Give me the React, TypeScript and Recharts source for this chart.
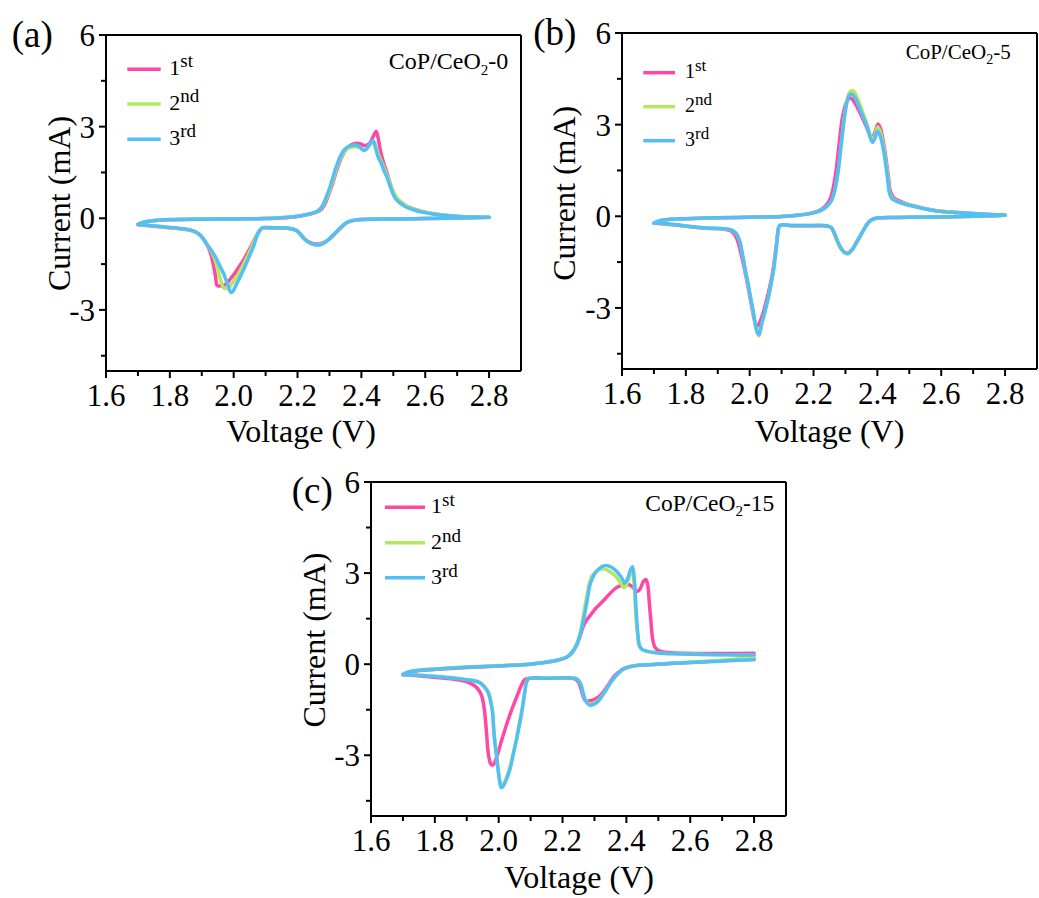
import React from 'react';
import { LineChart, Line, XAxis, YAxis, ReferenceLine, Legend, Customized } from 'recharts';

type Pt = [number, number];

// ---------------- Panel (a) CoP/CeO2-0 ----------------
const a1Cath: Pt[] = [[2.80,0.03],[2.70,0.01],[2.60,-0.01],[2.50,-0.02],[2.45,-0.03],[2.396,-0.04],[2.375,-0.07],[2.354,-0.15],[2.338,-0.29],[2.323,-0.45],[2.302,-0.66],[2.285,-0.78],[2.268,-0.84],[2.25,-0.83],[2.235,-0.77],[2.222,-0.66],[2.21,-0.52],[2.198,-0.41],[2.185,-0.36],[2.167,-0.33],[2.14,-0.32],[2.10,-0.31],[2.09,-0.32],[2.082,-0.40],[2.072,-0.55],[2.06,-0.80],[2.045,-1.10],[2.03,-1.38],[2.015,-1.62],[2.005,-1.78],[1.99,-1.98],[1.978,-2.14],[1.966,-2.20],[1.955,-2.22],[1.948,-2.20],[1.943,-1.90],[1.936,-1.50],[1.926,-1.09],[1.912,-0.78],[1.897,-0.56],[1.882,-0.45],[1.865,-0.39],[1.845,-0.36],[1.82,-0.33],[1.79,-0.30],[1.75,-0.26],[1.72,-0.23],[1.70,-0.21]];
const a1Anod: Pt[] = [[1.70,-0.21],[1.72,-0.13],[1.75,-0.08],[1.80,-0.05],[1.90,-0.03],[2.00,-0.02],[2.10,-0.01],[2.15,0.01],[2.20,0.06],[2.24,0.14],[2.27,0.25],[2.285,0.45],[2.295,0.70],[2.307,1.04],[2.322,1.55],[2.338,2.00],[2.352,2.25],[2.365,2.38],[2.38,2.45],[2.395,2.44],[2.41,2.38],[2.425,2.45],[2.438,2.70],[2.446,2.85],[2.452,2.65],[2.46,2.20],[2.47,1.80],[2.48,1.50],[2.49,1.15],[2.50,0.85],[2.51,0.66],[2.525,0.52],[2.545,0.38],[2.57,0.28],[2.60,0.20],[2.63,0.14],[2.67,0.09],[2.72,0.05],[2.80,0.03]];
const a2Cath: Pt[] = [[2.80,0.03],[2.70,0.01],[2.60,-0.01],[2.50,-0.02],[2.45,-0.03],[2.396,-0.04],[2.375,-0.07],[2.354,-0.14],[2.338,-0.28],[2.323,-0.44],[2.302,-0.65],[2.287,-0.78],[2.27,-0.86],[2.253,-0.86],[2.238,-0.80],[2.225,-0.70],[2.213,-0.55],[2.2,-0.42],[2.185,-0.35],[2.167,-0.32],[2.14,-0.31],[2.10,-0.30],[2.09,-0.31],[2.081,-0.40],[2.073,-0.55],[2.06,-0.85],[2.045,-1.20],[2.03,-1.52],[2.015,-1.82],[2.00,-2.06],[1.99,-2.20],[1.98,-2.28],[1.972,-2.30],[1.965,-2.22],[1.958,-1.98],[1.95,-1.65],[1.94,-1.32],[1.928,-1.05],[1.915,-0.82],[1.90,-0.62],[1.888,-0.50],[1.872,-0.42],[1.85,-0.36],[1.82,-0.33],[1.79,-0.29],[1.75,-0.25],[1.72,-0.22],[1.70,-0.20]];
const a2Anod: Pt[] = [[1.70,-0.20],[1.72,-0.12],[1.75,-0.07],[1.80,-0.04],[1.90,-0.03],[2.00,-0.02],[2.10,-0.01],[2.15,0.02],[2.20,0.07],[2.24,0.15],[2.267,0.25],[2.282,0.45],[2.293,0.70],[2.305,1.04],[2.32,1.55],[2.336,2.00],[2.35,2.22],[2.363,2.31],[2.378,2.34],[2.393,2.32],[2.405,2.25],[2.413,2.24],[2.423,2.35],[2.433,2.48],[2.44,2.50],[2.447,2.30],[2.456,2.02],[2.466,1.78],[2.475,1.55],[2.484,1.33],[2.495,1.02],[2.505,0.78],[2.515,0.62],[2.528,0.50],[2.548,0.37],[2.57,0.28],[2.60,0.20],[2.63,0.14],[2.67,0.09],[2.72,0.05],[2.80,0.03]];
const a3Cath: Pt[] = [[2.80,0.03],[2.70,0.01],[2.60,-0.01],[2.50,-0.02],[2.45,-0.03],[2.396,-0.04],[2.375,-0.07],[2.354,-0.14],[2.338,-0.27],[2.323,-0.43],[2.302,-0.65],[2.287,-0.79],[2.271,-0.87],[2.255,-0.87],[2.239,-0.81],[2.228,-0.74],[2.218,-0.65],[2.208,-0.52],[2.198,-0.41],[2.185,-0.35],[2.167,-0.32],[2.14,-0.31],[2.10,-0.30],[2.09,-0.31],[2.082,-0.38],[2.074,-0.55],[2.062,-0.92],[2.05,-1.22],[2.04,-1.47],[2.025,-1.82],[2.01,-2.13],[2.001,-2.33],[1.994,-2.43],[1.988,-2.38],[1.984,-2.24],[1.976,-2.02],[1.968,-1.80],[1.955,-1.52],[1.942,-1.25],[1.928,-1.02],[1.916,-0.86],[1.905,-0.68],[1.895,-0.55],[1.88,-0.45],[1.865,-0.39],[1.845,-0.35],[1.82,-0.32],[1.79,-0.29],[1.75,-0.25],[1.72,-0.22],[1.70,-0.20]];
const a3Anod: Pt[] = [[1.70,-0.20],[1.72,-0.12],[1.75,-0.07],[1.80,-0.04],[1.90,-0.03],[2.00,-0.02],[2.10,-0.01],[2.15,0.02],[2.20,0.07],[2.24,0.15],[2.265,0.25],[2.28,0.45],[2.29,0.70],[2.302,1.04],[2.318,1.59],[2.334,2.03],[2.347,2.25],[2.36,2.35],[2.375,2.40],[2.39,2.38],[2.40,2.28],[2.408,2.22],[2.418,2.30],[2.428,2.45],[2.436,2.55],[2.443,2.35],[2.452,2.02],[2.462,1.80],[2.47,1.58],[2.479,1.37],[2.49,1.05],[2.50,0.77],[2.51,0.60],[2.521,0.50],[2.54,0.37],[2.563,0.28],[2.59,0.20],[2.625,0.14],[2.67,0.08],[2.72,0.05],[2.80,0.03]];

// ---------------- Panel (b) CoP/CeO2-5 ----------------
const b1Cath: Pt[] = [[2.80,0.03],[2.70,0.00],[2.60,-0.02],[2.50,-0.03],[2.45,-0.04],[2.408,-0.05],[2.39,-0.08],[2.377,-0.15],[2.365,-0.30],[2.351,-0.56],[2.34,-0.77],[2.33,-0.95],[2.32,-1.11],[2.309,-1.21],[2.298,-1.19],[2.287,-1.07],[2.279,-0.92],[2.271,-0.72],[2.263,-0.52],[2.255,-0.37],[2.243,-0.32],[2.231,-0.31],[2.18,-0.31],[2.13,-0.31],[2.095,-0.30],[2.09,-0.42],[2.084,-0.90],[2.074,-1.70],[2.064,-2.25],[2.054,-2.70],[2.044,-3.10],[2.035,-3.38],[2.028,-3.55],[2.022,-3.60],[2.016,-3.45],[2.008,-3.05],[2.0,-2.60],[1.99,-2.05],[1.98,-1.55],[1.97,-1.10],[1.962,-0.80],[1.953,-0.60],[1.942,-0.48],[1.92,-0.42],[1.866,-0.39],[1.82,-0.35],[1.762,-0.28],[1.73,-0.25],[1.70,-0.23]];
const b1Anod: Pt[] = [[1.70,-0.23],[1.72,-0.15],[1.75,-0.10],[1.80,-0.08],[1.90,-0.05],[2.00,-0.03],[2.10,-0.01],[2.15,0.03],[2.20,0.12],[2.222,0.21],[2.237,0.33],[2.25,0.52],[2.26,0.85],[2.27,1.45],[2.28,2.35],[2.29,3.20],[2.30,3.65],[2.308,3.82],[2.316,3.87],[2.327,3.75],[2.344,3.42],[2.365,2.95],[2.383,2.56],[2.393,2.76],[2.402,3.02],[2.41,2.86],[2.421,2.30],[2.433,1.42],[2.441,0.82],[2.45,0.62],[2.47,0.50],[2.50,0.38],[2.54,0.27],[2.59,0.17],[2.65,0.12],[2.70,0.09],[2.75,0.06],[2.80,0.04]];
const b2Cath: Pt[] = [[2.80,0.03],[2.70,0.00],[2.60,-0.02],[2.50,-0.03],[2.45,-0.04],[2.408,-0.05],[2.39,-0.08],[2.377,-0.16],[2.365,-0.31],[2.351,-0.57],[2.34,-0.78],[2.33,-0.96],[2.32,-1.12],[2.309,-1.23],[2.30,-1.22],[2.289,-1.10],[2.281,-0.96],[2.273,-0.77],[2.265,-0.56],[2.257,-0.39],[2.245,-0.32],[2.231,-0.30],[2.18,-0.30],[2.13,-0.30],[2.095,-0.29],[2.09,-0.40],[2.085,-0.87],[2.075,-1.74],[2.067,-2.22],[2.059,-2.65],[2.048,-3.13],[2.038,-3.53],[2.033,-3.78],[2.029,-3.92],[2.024,-3.84],[2.017,-3.52],[2.01,-3.08],[2.002,-2.64],[1.994,-2.18],[1.986,-1.76],[1.978,-1.30],[1.971,-0.90],[1.964,-0.68],[1.956,-0.54],[1.94,-0.44],[1.91,-0.40],[1.866,-0.38],[1.82,-0.34],[1.762,-0.27],[1.73,-0.24],[1.70,-0.22]];
const b2Anod: Pt[] = [[1.70,-0.22],[1.72,-0.14],[1.75,-0.10],[1.80,-0.08],[1.90,-0.05],[2.00,-0.03],[2.10,-0.01],[2.15,0.03],[2.20,0.11],[2.225,0.20],[2.242,0.33],[2.256,0.50],[2.266,0.80],[2.276,1.35],[2.286,2.25],[2.296,3.20],[2.306,3.85],[2.314,4.07],[2.322,4.12],[2.332,4.00],[2.348,3.58],[2.368,3.00],[2.385,2.50],[2.393,2.66],[2.401,2.92],[2.409,2.76],[2.42,2.25],[2.432,1.36],[2.439,0.78],[2.446,0.60],[2.462,0.50],[2.486,0.41],[2.513,0.34],[2.55,0.25],[2.596,0.17],[2.65,0.12],[2.70,0.09],[2.75,0.06],[2.80,0.04]];
const b3Cath: Pt[] = [[2.80,0.03],[2.70,0.00],[2.60,-0.02],[2.50,-0.03],[2.45,-0.04],[2.408,-0.05],[2.39,-0.08],[2.377,-0.15],[2.365,-0.30],[2.351,-0.55],[2.34,-0.75],[2.33,-0.93],[2.32,-1.10],[2.309,-1.21],[2.30,-1.20],[2.289,-1.09],[2.281,-0.95],[2.273,-0.76],[2.265,-0.55],[2.257,-0.38],[2.245,-0.32],[2.231,-0.30],[2.18,-0.30],[2.13,-0.30],[2.095,-0.29],[2.09,-0.40],[2.085,-0.87],[2.075,-1.74],[2.067,-2.20],[2.059,-2.62],[2.048,-3.10],[2.038,-3.49],[2.033,-3.72],[2.029,-3.87],[2.024,-3.80],[2.017,-3.49],[2.01,-3.05],[2.002,-2.62],[1.994,-2.15],[1.986,-1.74],[1.978,-1.28],[1.970,-0.87],[1.963,-0.66],[1.955,-0.53],[1.94,-0.44],[1.91,-0.40],[1.866,-0.38],[1.82,-0.34],[1.762,-0.27],[1.73,-0.24],[1.70,-0.22]];
const b3Anod: Pt[] = [[1.70,-0.22],[1.72,-0.14],[1.75,-0.10],[1.80,-0.08],[1.90,-0.05],[2.00,-0.03],[2.10,-0.01],[2.15,0.03],[2.20,0.11],[2.225,0.20],[2.242,0.33],[2.255,0.50],[2.265,0.80],[2.275,1.35],[2.285,2.20],[2.295,3.10],[2.305,3.75],[2.313,3.97],[2.32,4.00],[2.33,3.88],[2.346,3.49],[2.367,2.95],[2.384,2.42],[2.392,2.55],[2.40,2.78],[2.408,2.65],[2.419,2.18],[2.431,1.31],[2.438,0.75],[2.445,0.58],[2.461,0.49],[2.485,0.40],[2.513,0.33],[2.55,0.24],[2.596,0.16],[2.65,0.12],[2.70,0.09],[2.75,0.06],[2.80,0.04]];

// ---------------- Panel (c) CoP/CeO2-15 ----------------
const c1Cath: Pt[] = [[2.80,0.18],[2.72,0.13],[2.64,0.08],[2.55,0.03],[2.484,-0.01],[2.432,-0.04],[2.41,-0.08],[2.39,-0.15],[2.375,-0.27],[2.36,-0.42],[2.345,-0.65],[2.33,-0.88],[2.318,-1.03],[2.305,-1.13],[2.292,-1.19],[2.282,-1.21],[2.274,-1.22],[2.268,-1.15],[2.262,-0.98],[2.256,-0.75],[2.25,-0.60],[2.242,-0.50],[2.22,-0.46],[2.15,-0.46],[2.098,-0.46],[2.088,-0.48],[2.08,-0.52],[2.07,-0.72],[2.06,-0.98],[2.05,-1.25],[2.04,-1.52],[2.03,-1.82],[2.02,-2.14],[2.01,-2.48],[2.0,-2.84],[1.993,-3.08],[1.986,-3.27],[1.981,-3.33],[1.975,-3.28],[1.969,-3.05],[1.965,-2.70],[1.962,-2.26],[1.959,-1.90],[1.956,-1.58],[1.952,-1.28],[1.947,-1.05],[1.938,-0.86],[1.926,-0.72],[1.905,-0.60],[1.889,-0.55],[1.85,-0.48],[1.806,-0.44],[1.75,-0.38],[1.72,-0.36],[1.70,-0.35]];
const c1Anod: Pt[] = [[1.70,-0.35],[1.72,-0.26],[1.75,-0.21],[1.806,-0.17],[1.90,-0.11],[2.014,-0.05],[2.10,0.00],[2.139,0.05],[2.18,0.12],[2.202,0.18],[2.22,0.28],[2.233,0.43],[2.245,0.65],[2.254,0.90],[2.264,1.22],[2.275,1.45],[2.285,1.58],[2.305,1.85],[2.327,2.08],[2.348,2.32],[2.369,2.52],[2.385,2.60],[2.40,2.63],[2.415,2.58],[2.428,2.45],[2.436,2.40],[2.445,2.52],[2.453,2.72],[2.461,2.79],[2.467,2.60],[2.472,2.00],[2.477,1.40],[2.482,0.85],[2.49,0.55],[2.505,0.43],[2.54,0.38],[2.588,0.36],[2.70,0.35],[2.80,0.36]];
const c2Cath: Pt[] = [[2.80,0.22],[2.72,0.15],[2.64,0.09],[2.55,0.04],[2.484,-0.01],[2.432,-0.04],[2.41,-0.09],[2.39,-0.17],[2.375,-0.30],[2.358,-0.50],[2.342,-0.74],[2.327,-0.98],[2.315,-1.16],[2.305,-1.25],[2.295,-1.30],[2.285,-1.31],[2.277,-1.25],[2.27,-1.13],[2.264,-0.93],[2.259,-0.71],[2.252,-0.56],[2.244,-0.48],[2.22,-0.45],[2.15,-0.45],[2.098,-0.45],[2.092,-0.49],[2.087,-0.58],[2.08,-1.02],[2.072,-1.55],[2.064,-2.00],[2.056,-2.42],[2.045,-2.95],[2.035,-3.40],[2.022,-3.80],[2.014,-3.97],[2.008,-4.00],[2.003,-3.80],[1.998,-3.42],[1.993,-2.95],[1.988,-2.55],[1.984,-2.05],[1.981,-1.58],[1.975,-1.18],[1.968,-0.92],[1.956,-0.74],[1.942,-0.60],[1.92,-0.53],[1.889,-0.49],[1.85,-0.44],[1.806,-0.40],[1.75,-0.36],[1.72,-0.34],[1.70,-0.33]];
const c2Anod: Pt[] = [[1.70,-0.33],[1.72,-0.24],[1.75,-0.19],[1.806,-0.15],[1.90,-0.09],[2.014,-0.04],[2.10,0.01],[2.139,0.06],[2.18,0.13],[2.202,0.19],[2.22,0.29],[2.233,0.45],[2.245,0.68],[2.254,0.98],[2.262,1.40],[2.27,1.90],[2.278,2.35],[2.285,2.70],[2.293,2.92],[2.305,3.05],[2.318,3.12],[2.327,3.14],[2.34,3.10],[2.355,3.00],[2.37,2.85],[2.383,2.65],[2.393,2.52],[2.403,2.68],[2.41,2.90],[2.418,3.06],[2.424,2.70],[2.429,1.70],[2.435,0.95],[2.44,0.60],[2.45,0.48],[2.465,0.42],[2.50,0.37],[2.55,0.34],[2.65,0.32],[2.72,0.31],[2.80,0.30]];
const c3Cath: Pt[] = [[2.80,0.15],[2.72,0.11],[2.64,0.07],[2.55,0.03],[2.484,-0.01],[2.432,-0.04],[2.41,-0.09],[2.39,-0.17],[2.375,-0.30],[2.358,-0.50],[2.342,-0.75],[2.327,-1.00],[2.315,-1.18],[2.305,-1.28],[2.295,-1.33],[2.285,-1.35],[2.277,-1.28],[2.27,-1.16],[2.264,-0.95],[2.259,-0.72],[2.252,-0.57],[2.244,-0.48],[2.22,-0.45],[2.15,-0.46],[2.098,-0.46],[2.092,-0.50],[2.087,-0.60],[2.08,-1.05],[2.072,-1.60],[2.064,-2.05],[2.056,-2.48],[2.045,-3.00],[2.035,-3.47],[2.022,-3.85],[2.014,-4.02],[2.008,-4.07],[2.003,-3.85],[1.998,-3.47],[1.993,-3.00],[1.988,-2.59],[1.984,-2.10],[1.981,-1.60],[1.974,-1.20],[1.967,-0.94],[1.955,-0.75],[1.941,-0.61],[1.92,-0.54],[1.889,-0.50],[1.85,-0.45],[1.806,-0.41],[1.75,-0.37],[1.72,-0.35],[1.70,-0.34]];
const c3Anod: Pt[] = [[1.70,-0.34],[1.72,-0.25],[1.75,-0.20],[1.806,-0.16],[1.90,-0.10],[2.014,-0.05],[2.10,0.00],[2.139,0.05],[2.18,0.12],[2.202,0.18],[2.22,0.28],[2.233,0.43],[2.245,0.65],[2.254,0.92],[2.262,1.25],[2.27,1.69],[2.278,2.15],[2.285,2.57],[2.293,2.82],[2.301,2.98],[2.315,3.15],[2.327,3.23],[2.338,3.25],[2.352,3.20],[2.369,3.06],[2.383,2.88],[2.395,2.68],[2.405,2.85],[2.413,3.12],[2.419,3.21],[2.425,2.80],[2.43,1.90],[2.436,1.00],[2.442,0.59],[2.45,0.48],[2.463,0.43],[2.50,0.37],[2.536,0.35],[2.64,0.32],[2.72,0.31],[2.80,0.30]];

// ---------------- Axis / labels ----------------
const xTicks = [1.6, 1.7, 1.8, 1.9, 2.0, 2.1, 2.2, 2.3, 2.4, 2.5, 2.6, 2.7, 2.8];
const xTickLabels = ['1.6', '1.8', '2.0', '2.2', '2.4', '2.6', '2.8'];
const yTicks = [-4.5, -3, -1.5, 0, 1.5, 3, 4.5, 6];
const yTickLabels = ['-3', '0', '3', '6'];
const xDomain = [1.6, 2.9];
const yDomain = [-5, 6];
const cycleNames = ['1st', '2nd', '3rd'];
const cycleColors = ['#FF47A3', '#B4E85E', '#52BFF7'];
const sampleNames = ['CoP/CeO2-0', 'CoP/CeO2-5', 'CoP/CeO2-15'];
const panelLetters = ['(a)', '(b)', '(c)'];
const xTitle = 'Voltage (V)';
const yTitle = 'Current (mA)';

const toRows = (cath: Pt[], anod: Pt[]) => [...cath, ...anod].map(([v, i]) => ({ v, i }));
const series = [
  [toRows(a1Cath, a1Anod), toRows(a2Cath, a2Anod), toRows(a3Cath, a3Anod)],
  [toRows(b1Cath, b1Anod), toRows(b2Cath, b2Anod), toRows(b3Cath, b3Anod)],
  [toRows(c1Cath, c1Anod), toRows(c2Cath, c2Anod), toRows(c3Cath, c3Anod)],
];

// ---------------- Smooth curve (centripetal Catmull-Rom, as in d3) ----------------
const curveCR = (context: any) => {
  let pts: number[][] = [];
  const seg = (p0: number[], p1: number[], p2: number[], p3: number[]) => {
    const eps = 1e-12;
    const d = (a: number[], b: number[]) => Math.hypot(b[0] - a[0], b[1] - a[1]);
    const l01 = d(p0, p1), l12 = d(p1, p2), l23 = d(p2, p3);
    const l01a = Math.sqrt(l01), l12a = Math.sqrt(l12), l23a = Math.sqrt(l23);
    let x1 = p1[0], y1 = p1[1], x2 = p2[0], y2 = p2[1];
    if (l01a > eps) {
      const a = 2 * l01 + 3 * l01a * l12a + l12;
      const n = 3 * l01a * (l01a + l12a);
      x1 = (x1 * a - p0[0] * l12 + p2[0] * l01) / n;
      y1 = (y1 * a - p0[1] * l12 + p2[1] * l01) / n;
    }
    if (l23a > eps) {
      const b = 2 * l23 + 3 * l23a * l12a + l12;
      const m = 3 * l23a * (l23a + l12a);
      x2 = (x2 * b + p1[0] * l23 - p3[0] * l12) / m;
      y2 = (y2 * b + p1[1] * l23 - p3[1] * l12) / m;
    }
    context.bezierCurveTo(x1, y1, x2, y2, p2[0], p2[1]);
  };
  return {
    areaStart() {},
    areaEnd() {},
    lineStart() { pts = []; },
    point(x: number, y: number) { pts.push([+x, +y]); },
    lineEnd() {
      if (!pts.length) return;
      context.moveTo(pts[0][0], pts[0][1]);
      for (let i = 0; i < pts.length - 1; i++) {
        const p0 = pts[i - 1] || pts[i];
        const p3 = pts[i + 2] || pts[i + 1];
        seg(p0, pts[i], pts[i + 1], p3);
      }
    },
  };
};

// ---------------- Layout ----------------
const FONT = '"Liberation Serif", "Times New Roman", Times, serif';
const ML = 110, MT = 40, MR = 2, MB = 90;

const layouts = [
  {
    left: 106, top: 35, w: 415, h: 336,
    letter: [11.7, 46.7], xT: [301, 441.5], yT: [69.7, 203.5],
    ann: { x: 508.3, y: 69.3, fs: 24, sub: 15, drop: 5.5 },
    leg: { x1: 21.3, x2: 54.7, rows: [34.3, 69, 104.3], tx: 63.3, fs: 22, sup: 19, rise: 8, base: 6 },
  },
  {
    left: 622, top: 33, w: 415, h: 336,
    letter: [533.3, 45], xT: [829.5, 441.7], yT: [575, 193.3],
    ann: { x: 1010.7, y: 59.3, fs: 21, sub: 14, drop: 5 },
    leg: { x1: 21.3, x2: 53, rows: [39.7, 73.7, 107.7], tx: 63, fs: 20, sup: 17, rise: 7, base: 5.6 },
  },
  {
    left: 371, top: 482, w: 415, h: 334,
    letter: [291.7, 503.3], xT: [579, 887.5], yT: [325, 640],
    ann: { x: 774.3, y: 510.7, fs: 23.5, sub: 15, drop: 5.5 },
    leg: { x1: 14, x2: 54, rows: [25.3, 60.7, 95.7], tx: 60, fs: 22, sup: 19, rise: 7, base: 6 },
  },
];

const txt = (size: number) => ({ fontFamily: FONT, fontSize: size });

const renderXTick = (p: any) => {
  const v = Number(p.payload?.value);
  const lbl = v.toFixed(1);
  const idx = xTickLabels.indexOf(lbl);
  const major = idx >= 0;
  return (
    <g>
      <line x1={p.x} x2={p.x} y1={p.y} y2={p.y + (major ? 7 : 5)} stroke="#000" strokeWidth={2} />
      {major ? (
        <text x={p.x} y={p.y + 35} textAnchor="middle" fill="#000" style={txt(31)}>
          {xTickLabels[idx]}
        </text>
      ) : null}
    </g>
  );
};

const renderYTick = (p: any) => {
  const v = Number(p.payload?.value);
  const idx = yTickLabels.indexOf(String(v));
  const major = idx >= 0;
  return (
    <g>
      <line x1={p.x - (major ? 7 : 5)} x2={p.x} y1={p.y} y2={p.y} stroke="#000" strokeWidth={2} />
      {major ? (
        <text x={p.x - 11} y={p.y + 11} textAnchor="end" fill="#000" style={txt(31)}>
          {yTickLabels[idx]}
        </text>
      ) : null}
    </g>
  );
};

const makeLegend = (k: number) => (props: any) => {
  const L = layouts[k].leg;
  const payload = props.payload ?? [];
  return (
    <svg width={140} height={140} style={{ display: 'block', overflow: 'visible' }}>
      {payload.map((p: any, j: number) => {
        const y = L.rows[j];
        const name = String(p.value);
        return (
          <g key={j}>
            <line x1={L.x1} x2={L.x2} y1={y} y2={y} stroke={p.color} strokeWidth={3.5} />
            <text x={L.tx} y={y + L.base} fill="#000" style={txt(L.fs)}>
              {name[0]}
              <tspan dy={-L.rise} style={txt(L.sup)}>{name.slice(1)}</tspan>
            </text>
          </g>
        );
      })}
    </svg>
  );
};

const Overlay = ({ k }: { k: number }) => {
  const L = layouts[k];
  const ox = L.left - ML;
  const oy = L.top - MT;
  const name = sampleNames[k];
  const cut = name.indexOf('2');
  const yx = L.yT[0] - ox;
  const yy = L.yT[1] - oy;
  return (
    <g fill="#000">
      <text x={L.letter[0] - ox} y={L.letter[1] - oy} style={txt(37)}>{panelLetters[k]}</text>
      <text x={L.xT[0] - ox} y={L.xT[1] - oy} textAnchor="middle" style={txt(32)}>{xTitle}</text>
      <text x={yx} y={yy} transform={`rotate(-90 ${yx} ${yy})`} textAnchor="middle" style={txt(32)}>{yTitle}</text>
      <text x={L.ann.x - ox} y={L.ann.y - oy} textAnchor="end" style={txt(L.ann.fs)}>
        {name.slice(0, cut)}
        <tspan dy={L.ann.drop} style={txt(L.ann.sub)}>{name[cut]}</tspan>
        <tspan dy={-L.ann.drop} style={txt(L.ann.fs)}>{name.slice(cut + 1)}</tspan>
      </text>
    </g>
  );
};

export default function App() {
  return (
    <div style={{ position: 'absolute', left: 0, top: 0, width: 1039, height: 898, overflow: 'hidden', background: '#fff', fontFamily: FONT }}>
      {layouts.map((L, k) => (
        <div key={k} style={{ position: 'absolute', left: L.left - ML, top: L.top - MT }}>
          <LineChart
            width={ML + L.w + MR}
            height={MT + L.h + MB}
            margin={{ top: MT, right: MR, bottom: 0, left: 0 }}
            style={{ fontFamily: FONT }}
          >
            <XAxis
              type="number"
              dataKey="v"
              domain={xDomain}
              ticks={xTicks}
              interval={0}
              tick={renderXTick}
              tickLine={false}
              tickSize={0}
              tickMargin={0}
              axisLine={{ stroke: '#000', strokeWidth: 2 }}
              height={MB}
              allowDataOverflow
            />
            <YAxis
              type="number"
              domain={yDomain}
              ticks={yTicks}
              interval={0}
              tick={renderYTick}
              tickLine={false}
              tickSize={0}
              tickMargin={0}
              axisLine={{ stroke: '#000', strokeWidth: 2 }}
              width={ML}
              allowDataOverflow
            />
            <ReferenceLine y={6} stroke="#000" strokeWidth={2} />
            <ReferenceLine x={2.9} stroke="#000" strokeWidth={2} />
            {series[k].map((rows, j) => (
              <Line
                key={j}
                data={rows}
                dataKey="i"
                name={cycleNames[j]}
                type={curveCR as any}
                stroke={cycleColors[j]}
                strokeWidth={3.5}
                strokeLinejoin="round"
                strokeLinecap="round"
                dot={false}
                activeDot={false}
                isAnimationActive={false}
              />
            ))}
            <Legend
              content={makeLegend(k)}
              layout="horizontal"
              verticalAlign="middle"
              align="center"
              wrapperStyle={{ left: ML, top: MT, width: 'auto', height: 'auto' }}
            />
            <Customized component={<Overlay k={k} />} />
          </LineChart>
        </div>
      ))}
    </div>
  );
}
